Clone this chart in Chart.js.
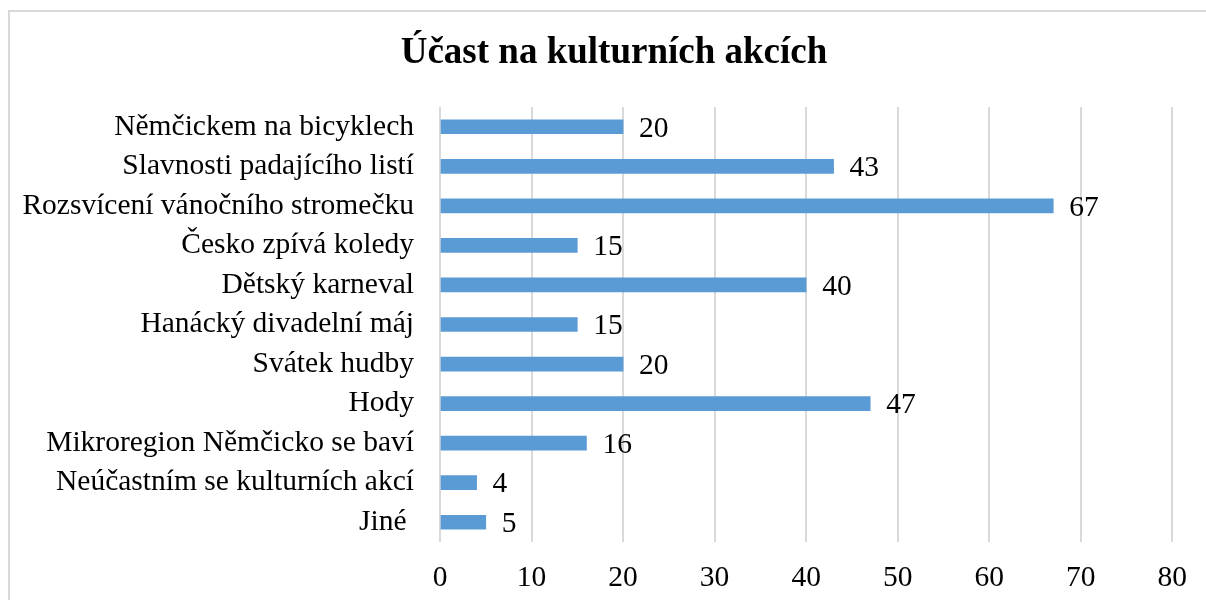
<!DOCTYPE html>
<html>
<head>
<meta charset="utf-8">
<script src="https://cdn.jsdelivr.net/npm/chart.js@4.4.0/dist/chart.umd.min.js"></script>
<style>
  html, body { margin: 0; padding: 0; background: #fff; overflow: hidden; }
  #wrap { position: relative; width: 1206px; height: 600px; }
  #frame { position: absolute; left: 8px; top: 10px; width: 1210px; height: 600px;
           border: 2px solid #d9d9d9; box-sizing: border-box; }
  canvas { position: absolute; left: 0; top: 0; }
</style>
</head>
<body>
<div id="wrap">
  <div id="frame"></div>
  <canvas id="chart" width="1206" height="600"></canvas>
</div>
<script>
const chartTitle = 'Účast na kulturních akcích'
const categories = [
  'Němčickem na bicyklech',
  'Slavnosti padajícího listí',
  'Rozsvícení vánočního stromečku',
  'Česko zpívá koledy',
  'Dětský karneval',
  'Hanácký divadelní máj',
  'Svátek hudby',
  'Hody',
  'Mikroregion Němčicko se baví',
  'Neúčastním se kulturních akcí',
  'Jiné '
]
const counts = [20, 43, 67, 15, 40, 15, 20, 47, 16, 4, 5]
const xTicks = [0, 10, 20, 30, 40, 50, 60, 70, 80]

const serif = "'Liberation Serif', 'Times New Roman', serif"
const textSize = 29.5

// Title is centred on the whole frame, not on the plot, so draw it by hand
const frameTitle = {
  id: 'frameTitle',
  afterDraw(chart) {
    const ctx = chart.ctx
    ctx.save()
    ctx.font = 'bold 37px ' + serif
    ctx.fillStyle = '#000'
    ctx.textAlign = 'center'
    ctx.textBaseline = 'middle'
    ctx.fillText(chartTitle, 614, 53)
    ctx.restore()
  }
}

// Draw the value next to each bar
const valueLabels = {
  id: 'valueLabels',
  afterDatasetsDraw(chart) {
    const ctx = chart.ctx
    const meta = chart.getDatasetMeta(0)
    ctx.save()
    ctx.font = textSize + 'px ' + serif
    ctx.fillStyle = '#000'
    ctx.textAlign = 'left'
    ctx.textBaseline = 'middle'
    meta.data.forEach((bar, i) => {
      ctx.fillText(String(counts[i]), bar.x + 16, bar.y + 2)
    })
    ctx.restore()
  }
}

new Chart(document.getElementById('chart'), {
  type: 'bar',
  data: {
    labels: categories,
    datasets: [{
      data: counts,
      backgroundColor: '#5b9bd5',
      borderWidth: 0,
      barThickness: 14
    }]
  },
  options: {
    indexAxis: 'y',
    responsive: false,
    animation: false,
    layout: { padding: { left: 0, right: 31, top: 107, bottom: 0 } },
    plugins: {
      legend: { display: false },
      tooltip: { enabled: false },
      title: { display: false }
    },
    scales: {
      x: {
        min: 0,
        max: 80,
        afterBuildTicks(axis) { axis.ticks = xTicks.map(v => ({ value: v })) },
        afterFit(axis) { axis.height = 58 },
        grid: { color: '#d9d9d9', lineWidth: 2, drawTicks: false },
        border: { display: false },
        ticks: { color: '#000', padding: 19, font: { family: serif, size: textSize } }
      },
      y: {
        afterFit(axis) { axis.width = 440 },
        grid: { display: false, drawTicks: false },
        border: { display: false },
        ticks: { color: '#000', padding: 26, font: { family: serif, size: textSize } }
      }
    }
  },
  plugins: [valueLabels, frameTitle]
})
</script>
</body>
</html>
